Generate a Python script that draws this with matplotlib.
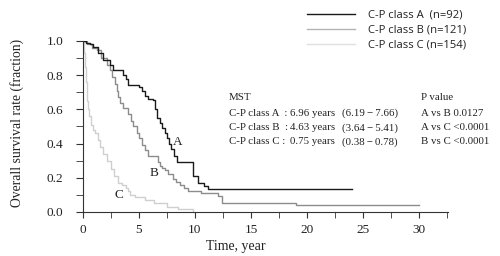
import numpy as np
import matplotlib
matplotlib.use("Agg")
import matplotlib.pyplot as plt
from matplotlib.ticker import MultipleLocator

# Kaplan-Meier steps (time in years, survival fraction)
t_a = [0, 0.3, 0.6, 0.9, 1.3, 1.8, 2.4, 2.7, 3.6, 3.8, 4.0, 5.0, 5.3, 5.5, 5.8,
       6.25, 6.4, 6.6, 6.9, 7.1, 7.3, 7.5, 7.7, 7.9, 8.1, 8.4, 9.8, 10.3, 10.8, 11.2, 24]
s_a = [1.0, 0.99, 0.98, 0.965, 0.93, 0.89, 0.86, 0.83, 0.80, 0.78, 0.74, 0.73, 0.71, 0.68, 0.66,
       0.655, 0.60, 0.55, 0.52, 0.49, 0.46, 0.43, 0.40, 0.37, 0.33, 0.29, 0.21, 0.17, 0.15, 0.135, 0.135]

t_b = [0, 0.4, 0.8, 1.25, 1.6, 2.1, 2.4, 2.6, 2.85, 3.0, 3.1, 3.3, 3.6, 4.0, 4.3, 4.5,
       4.8, 5.0, 5.3, 5.5, 5.8, 6.7, 6.9, 7.1, 7.3, 7.6, 8.0, 8.3, 8.7, 9.0, 9.4, 10.5,
       12.1, 12.4, 19.0, 30]
s_b = [1.0, 0.98, 0.96, 0.95, 0.90, 0.86, 0.83, 0.79, 0.75, 0.71, 0.67, 0.64, 0.61, 0.57, 0.53, 0.50,
       0.46, 0.43, 0.39, 0.36, 0.33, 0.29, 0.27, 0.26, 0.245, 0.22, 0.19, 0.175, 0.16, 0.14, 0.12, 0.11,
       0.094, 0.053, 0.04, 0.04]

t_c = [0, 0.05, 0.1, 0.18, 0.25, 0.36, 0.45, 0.55, 0.7, 0.85, 1.07, 1.3, 1.5, 1.8, 2.1,
       2.5, 2.8, 3.1, 3.5, 3.8, 4.0, 4.2, 4.6, 5.5, 6.3, 7.5, 8.5, 9.8]
s_c = [1.0, 0.97, 0.93, 0.85, 0.76, 0.65, 0.60, 0.56, 0.51, 0.48, 0.46, 0.42, 0.38, 0.34, 0.30,
       0.25, 0.21, 0.17, 0.155, 0.14, 0.12, 0.10, 0.085, 0.07, 0.05, 0.03, 0.015, 0.0]

legend_labels = ["C-P class A  (n=92)", "C-P class B (n=121)", "C-P class C (n=154)"]
mst_names = ["C-P class A  :", "C-P class B  :", "C-P class C :"]
mst_years = ["6.96 years", "4.63 years", "0.75 years"]
mst_ci = ["(6.19\u2009\u2212\u20097.66)", "(3.64\u2009\u2212\u20095.41)", "(0.38\u2009\u2212\u20090.78)"]
p_lines = ["P value", "A vs B 0.0127", "A vs C <0.0001", "B vs C <0.0001"]

col_a, col_b, col_c = "#1a1a1a", "#8c8c8c", "#cfcfcf"
serif = "Liberation Serif"
txt = "#222222"

fig = plt.figure(figsize=(5, 2.56), dpi=100)
ax = fig.add_axes([0.166, 0.172, 0.73, 0.668])

ax.plot(t_c, s_c, drawstyle="steps-post", color=col_c, lw=1)
ax.plot(t_b, s_b, drawstyle="steps-post", color=col_b, lw=1)
ax.plot(t_a, s_a, drawstyle="steps-post", color=col_a, lw=1)

ax.set_xlim(0, 32.6)
ax.set_ylim(0, 1.0)
ax.spines["top"].set_visible(False)
ax.spines["right"].set_visible(False)
ax.spines["left"].set_color("#333333")
ax.spines["bottom"].set_color("#333333")
ax.xaxis.set_major_locator(MultipleLocator(5))
ax.xaxis.set_minor_locator(MultipleLocator(2.5))
ax.yaxis.set_minor_locator(MultipleLocator(0.1))
ax.set_yticks([0, 0.2, 0.4, 0.6, 0.8, 1.0])
ax.set_yticklabels(["0.0", "0.2", "0.4", "0.6", "0.8", "1.0"])
ax.tick_params(which="both", direction="out", color="#333333", labelsize=9.5, labelcolor=txt)
ax.tick_params(axis="y", which="both", length=5, pad=9)
ax.tick_params(axis="x", which="both", length=4, pad=5)
for lab in ax.get_xticklabels() + ax.get_yticklabels():
    lab.set_family(serif)

ax.set_xlabel("Time, year", family=serif, fontsize=10, color=txt, va="center")
ax.set_ylabel("Overall survival rate (fraction)", family=serif, fontsize=9.8, color=txt)
ax.xaxis.set_label_coords(0.419, -0.2)
ax.yaxis.set_label_coords(-0.162, 0.52)

# curve letters
ax.text(8.5, 0.41, "A", family=serif, fontsize=9.5, ha="center", va="center", color=txt)
ax.text(6.35, 0.23, "B", family=serif, fontsize=9.5, ha="center", va="center", color=txt)
ax.text(3.2, 0.10, "C", family=serif, fontsize=9.5, ha="center", va="center", color=txt)

# MST and P value block
rows_y = [98, 113, 128, 142]
fs = 7.8
fig.text(229 / 500, 1 - rows_y[0] / 256, "MST", family=serif, fontsize=fs, va="center", color=txt)
for yy, a, b, c in zip(rows_y[1:], mst_names, mst_years, mst_ci):
    fy = 1 - yy / 256
    fig.text(229 / 500, fy, a, family=serif, fontsize=fs, va="center", color=txt)
    fig.text(290 / 500, fy, b, family=serif, fontsize=fs, va="center", color=txt)
    fig.text(342 / 500, fy, c, family=serif, fontsize=fs, va="center", color=txt)
for yy, s in zip(rows_y, p_lines):
    fig.text(421 / 500, 1 - yy / 256, s, family=serif, fontsize=fs, va="center", color=txt)

# legend drawn by hand at the top right
leg_y = [14, 29, 44]
for yy, lab, c in zip(leg_y, legend_labels, [col_a, "#b4b4b4", "#e0e0e0"]):
    fig.add_artist(plt.Line2D([307 / 500, 355 / 500], [1 - yy / 256, 1 - yy / 256],
                              color=c, lw=1, transform=fig.transFigure))
    fig.text(368 / 500, 1 - (yy + 1) / 256, lab, family="Open Sans", fontsize=8.1,
             va="center", color=txt)

plt.savefig("out.png", dpi=100)
